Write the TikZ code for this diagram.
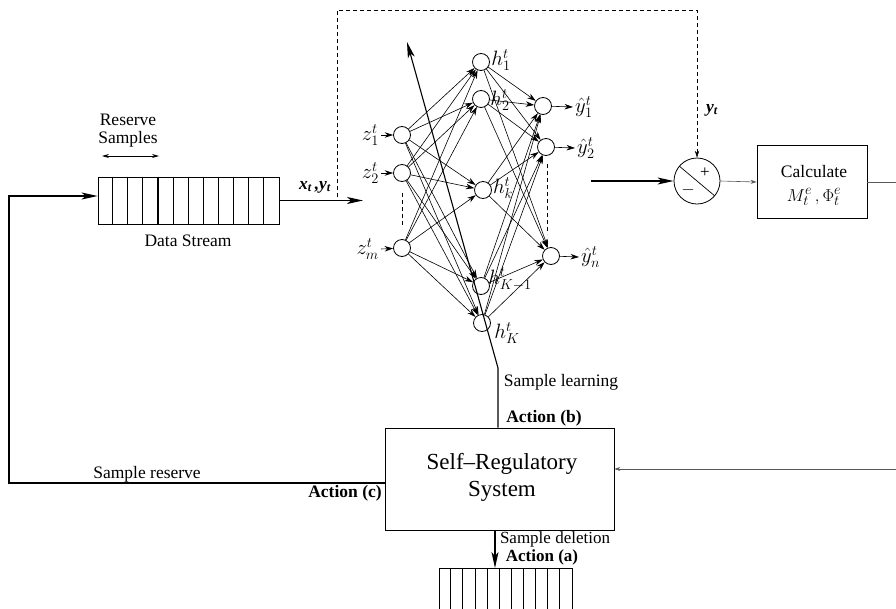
\documentclass[tikz,border=0pt]{standalone}
\usepackage{fontspec}
\setmainfont{Liberation Serif}
\usetikzlibrary{arrows.meta}
\begin{document}
\begin{tikzpicture}[x=1pt,y=-1pt,
  every node/.style={inner sep=0pt},
  txt/.style={font=\fontsize{17.5}{18}\selectfont},
  lab/.style={font=\fontsize{20}{21}\selectfont},
  neuron/.style={circle,draw,line width=0.8pt,minimum size=17pt,inner sep=0pt},
  syn/.style={-{Stealth[length=8.5pt,width=5.5pt]},line width=0.6pt},
  big/.style={-{Stealth[length=16pt,width=7pt,inset=4pt]},line width=1.3pt},
  thinarrow/.style={-{Stealth[length=6pt,width=4pt]},line width=0.6pt},
  dashline/.style={dash pattern=on 4pt off 3pt,line width=0.7pt},
  boxstyle/.style={draw,line width=0.8pt}]
\useasboundingbox (0,0) rectangle (896,608);

% ---------- neural network ----------
\node[neuron] (z1) at (402,135) {};
\node[neuron] (z2) at (402,173) {};
\node[neuron] (zm) at (402,248) {};
\node[neuron] (h1) at (481,62) {};
\node[neuron] (h2) at (481,99) {};
\node[neuron] (hk) at (483,190) {};
\node[neuron] (hK1) at (481,286) {};
\node[neuron] (hK) at (482,323) {};
\node[neuron] (y1) at (543,106) {};
\node[neuron] (y2) at (546,147) {};
\node[neuron] (yn) at (551,256) {};

\foreach \a in {z1,z2,zm}
  \foreach \b in {h1,h2,hk,hK1,hK}
    \draw[syn] (\a) -- (\b);
\foreach \a in {h1,h2,hk,hK1,hK}
  \foreach \b in {y1,y2,yn}
    \draw[syn] (\a) -- (\b);

\draw[dashline] ([yshift=-11pt]z2.south) -- ([yshift=12pt]zm.north);
\coordinate (yd) at (547,164);
\draw[dashline] (yd) -- (yd |- 0,234);

\node[lab,anchor=east] (z1l) at (379,135) {$z^t_1$};
\node[lab,anchor=east] (z2l) at (379,173) {$z^t_2$};
\node[lab,anchor=east] (zml) at (379,249) {$z^t_m$};
\draw[syn] ([xshift=2pt]z1l.east) -- (z1);
\draw[syn] ([xshift=2pt]z2l.east) -- (z2);
\draw[syn] ([xshift=2pt]zml.east) -- (zm);

\node[lab] (h1l) at (501,60) {$h^t_1$};
\node[lab] (h2l) at (500,100) {$h^t_2$};
\node[lab] (hkl) at (503,188) {$h^t_k$};
\node[lab] (hK1l) at (510,279) {$h^t_{K-1}$};
\node[lab] (hKl) at (507,333) {$h^t_K$};

\node[lab,anchor=west] (y1l) at (575,107) {$\hat{y}^t_1$};
\node[lab,anchor=west] (y2l) at (577,148) {$\hat{y}^t_2$};
\node[lab,anchor=west] (ynl) at (581,257) {$\hat{y}^t_n$};
\draw[syn] (y1) -- ([xshift=-2pt]y1l.west);
\draw[syn] (y2) -- ([xshift=-2pt]y2l.west);
\draw[syn] (yn) -- ([xshift=-2pt]ynl.west);

% ---------- data stream ----------
\node[boxstyle,minimum width=181pt,minimum height=47pt] (ds) at (188.5,200.5) {};
\foreach \i in {1,...,11}
  \draw[line width=0.7pt] (ds.north west) ++(\i*15.08,0) -- ++(0,47);
\draw[line width=1.8pt] (ds.north west) ++(4*15.08,0) -- ++(0,47);
\node[txt,align=center] (rs) at (128,131) {Reserve\\Samples};
\coordinate (ra) at (102,156);
\coordinate (rb) at (159,156);
\draw[{Stealth[length=7pt,width=4pt]}-{Stealth[length=7pt,width=4pt]},line width=0.7pt] (ra) -- (rb);
\node[txt] (dsl) at (188,241) {Data Stream};

\coordinate (nnin) at (363,199);
\draw[big] (ds.east) -- (nnin |- ds.east);
\node[txt] (xyl) at (315,187) {\textbf{\textit{x\textsubscript{t}\,,y\textsubscript{t}}}};

% ---------- comparison and calculation ----------
\node[boxstyle,circle,minimum size=46pt] (sum) at (697,181) {};
\draw[line width=0.7pt] (sum.140) -- (sum.-40);
\node[font=\fontsize{17}{17}\selectfont] (plus) at (705,173) {+};
\node[font=\fontsize{17}{17}\selectfont] (minus) at (688,190) {$-$};

\node[boxstyle,minimum width=110pt,minimum height=73pt] (calc) at (812,182) {};
\node[txt] (calcl) at (814,172) {Calculate};
\node[font=\fontsize{19}{19}\selectfont] (calcm) at (814,197) {$M^e_t\,,\Phi^e_t$};

\coordinate (dstart) at (337,197);
\coordinate (dtop) at (337,10);
\draw[dashline,-{Stealth[length=7pt,width=4.5pt]}] (dstart) -- (dtop) -| (sum.north);
\node[txt] (ytl) at (712,110) {\textbf{\textit{y\textsubscript{t}}}};

\coordinate (netout) at (591,181);
\draw[big] (netout) -- (sum.west);
\draw[thinarrow,gray!70!black] (sum.east) -- (calc.west);
\coordinate (rout) at (896,182);
\draw[line width=0.6pt,gray!70!black] (calc.east) -- (rout);

% ---------- self-regulatory system ----------
\node[boxstyle,minimum width=229pt,minimum height=102pt] (srs) at (499.5,479) {};
\node[font=\fontsize{23}{27}\selectfont,align=center] (srsl) at (502,477) {Self--Regulatory\\System};

\coordinate (rin) at (896,469);
\draw[thinarrow,gray!70!black] (rin) -- (rin -| srs.east);

\coordinate (bend) at (498,368);
\coordinate (ltip) at (407,42);
\draw[big,line width=1.1pt] (bend |- srs.north) -- (bend) -- (ltip);
\node[txt] (sll) at (561,382) {Sample learning};
\node[txt] (abl) at (544,418) {\textbf{Action (b)}};

\coordinate (lc) at (9,483);
\coordinate (lc2) at (9,196);
\draw[big] (srs.west |- lc) -- (lc) -- (lc2) -- (ds.west |- lc2);
\node[txt] (srl) at (147,474) {Sample reserve};
\node[txt] (acl) at (345,493) {\textbf{Action (c)}};

\node[boxstyle,minimum width=133pt,minimum height=44pt,anchor=north] (del) at (505.5,568) {};
\foreach \i in {1,...,10}
  \draw[line width=0.7pt] (del.north west) ++(\i*12.1,0) -- ++(0,44);
\draw[big] ([xshift=-4.5pt]srs.south) -- ([xshift=-10.5pt]del.north);
\node[font=\fontsize{17}{17}\selectfont] (sdl) at (555,539) {Sample deletion};
\node[font=\fontsize{17}{17}\selectfont] (aal) at (542,557) {\textbf{Action (a)}};
\end{tikzpicture}
\end{document}
